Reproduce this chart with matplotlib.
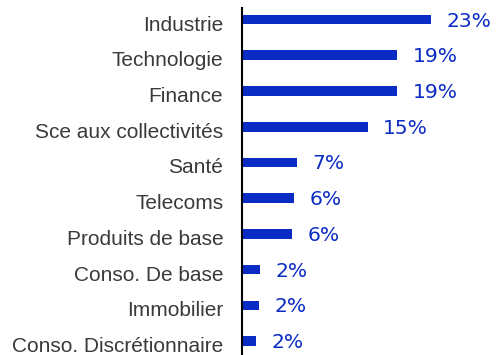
import matplotlib
matplotlib.use("Agg")
import matplotlib.pyplot as plt
from matplotlib.transforms import ScaledTranslation

sectors = [
    "Industrie",
    "Technologie",
    "Finance",
    "Sce aux collectivités",
    "Santé",
    "Telecoms",
    "Produits de base",
    "Conso. De base",
    "Immobilier",
    "Conso. Discrétionnaire",
]
weights = [22.9, 18.8, 18.8, 15.2, 6.6, 6.3, 6.1, 2.2, 2.0, 1.7]

bar_color = "#0a2bc4"
label_color = "#3a3a3a"

W, H = 497, 355
fig = plt.figure(figsize=(W / 100, H / 100), dpi=100)
ax = fig.add_axes([242 / W, 0, (W - 242) / W, 347 / H])

y = list(range(len(sectors)))
ax.barh(y, weights, height=0.27, color=bar_color)

ax.set_xlim(0, (W - 242) / 8.26)
ax.set_ylim(9.39, -0.322)

# value labels, nudged slightly below the bar centre
val_shift = ScaledTranslation(0, -1.5 / 100, fig.dpi_scale_trans)
for yi, v in zip(y, weights):
    ax.text(v + 1.9, yi, f"{v:.0f}%", va="center", ha="left",
            color=bar_color, fontsize=14.6, family="DejaVu Sans",
            transform=ax.transData + val_shift)

ax.set_yticks(y)
ax.set_yticklabels(sectors, fontsize=15, color=label_color,
                   family="Liberation Sans")
ax.tick_params(axis="y", length=0, pad=13.5)
cat_shift = ScaledTranslation(0, -3.5 / 100, fig.dpi_scale_trans)
for lbl in ax.get_yticklabels():
    lbl.set_transform(lbl.get_transform() + cat_shift)
ax.set_xticks([])

for s in ["top", "right", "bottom"]:
    ax.spines[s].set_visible(False)
ax.spines["left"].set_linewidth(1.5)
ax.spines["left"].set_color("black")

fig.savefig("out.png", dpi=100)
